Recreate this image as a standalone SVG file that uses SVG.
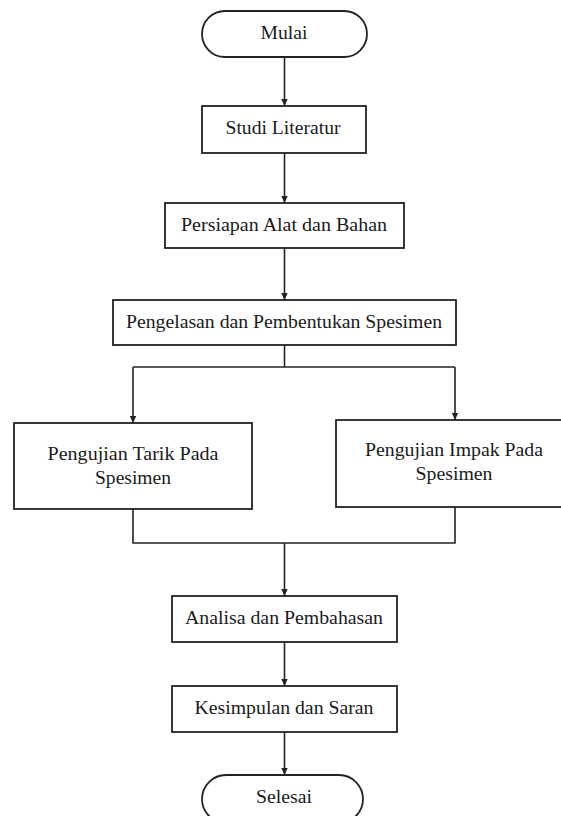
<svg xmlns="http://www.w3.org/2000/svg" width="561" height="816" viewBox="0 0 561 816">
<defs>
<style>
.box{fill:#fff;stroke:#222;stroke-width:1.8}
.t{font-family:"Liberation Serif","Times New Roman",serif;font-size:19.5px;fill:#1a1a1a;text-anchor:middle}
.c{fill:none;stroke:#222;stroke-width:1.6}
</style>
<marker id="ah" markerWidth="8" markerHeight="8" refX="7" refY="4" orient="auto" markerUnits="userSpaceOnUse">
<path d="M0,0.8 L7,4 L0,7.2 Z" fill="#222"/>
</marker>
</defs>
<rect width="561" height="816" fill="#fff"/>
<g id="connectors">
<line class="c" x1="284.5" y1="57" x2="284.5" y2="106" marker-end="url(#ah)"/>
<line class="c" x1="284.5" y1="153" x2="284.5" y2="203" marker-end="url(#ah)"/>
<line class="c" x1="284.5" y1="248" x2="284.5" y2="300" marker-end="url(#ah)"/>
<polyline class="c" points="284.5,345 284.5,367"/>
<polyline class="c" points="133,367 455,367"/>
<line class="c" x1="133" y1="367" x2="133" y2="423" marker-end="url(#ah)"/>
<line class="c" x1="455" y1="367" x2="455" y2="420" marker-end="url(#ah)"/>
<polyline class="c" points="133,509 133,543 455,543 455,507"/>
<line class="c" x1="284.5" y1="543" x2="284.5" y2="596" marker-end="url(#ah)"/>
<line class="c" x1="284.5" y1="642" x2="284.5" y2="686" marker-end="url(#ah)"/>
<line class="c" x1="284.5" y1="732" x2="284.5" y2="775" marker-end="url(#ah)"/>
</g>
<g id="mulai">
<rect class="box" x="202" y="11" width="165" height="46" rx="23" ry="23"/>
<text class="t" x="284" y="39" textLength="47" lengthAdjust="spacingAndGlyphs">Mulai</text>
</g>
<g id="studi">
<rect class="box" x="202" y="106" width="164" height="47"/>
<text class="t" x="283" y="134" textLength="115" lengthAdjust="spacingAndGlyphs">Studi Literatur</text>
</g>
<g id="persiapan">
<rect class="box" x="165" y="203" width="239" height="45"/>
<text class="t" x="284" y="231" textLength="206" lengthAdjust="spacingAndGlyphs">Persiapan Alat dan Bahan</text>
</g>
<g id="pengelasan">
<rect class="box" x="113" y="300" width="343" height="45"/>
<text class="t" x="284" y="328" textLength="316" lengthAdjust="spacingAndGlyphs">Pengelasan dan Pembentukan Spesimen</text>
</g>
<g id="tarik">
<rect class="box" x="14" y="423" width="238" height="86"/>
<text class="t" x="133" y="460" textLength="171" lengthAdjust="spacingAndGlyphs">Pengujian Tarik Pada</text>
<text class="t" x="133" y="484" textLength="76" lengthAdjust="spacingAndGlyphs">Spesimen</text>
</g>
<g id="impak">
<rect class="box" x="336" y="420" width="226" height="87"/>
<text class="t" x="454" y="456" textLength="178" lengthAdjust="spacingAndGlyphs">Pengujian Impak Pada</text>
<text class="t" x="454" y="480" textLength="77" lengthAdjust="spacingAndGlyphs">Spesimen</text>
</g>
<g id="analisa">
<rect class="box" x="172" y="596" width="225" height="46"/>
<text class="t" x="284" y="624" textLength="198" lengthAdjust="spacingAndGlyphs">Analisa dan Pembahasan</text>
</g>
<g id="kesimpulan">
<rect class="box" x="172" y="686" width="225" height="46"/>
<text class="t" x="284" y="714" textLength="179" lengthAdjust="spacingAndGlyphs">Kesimpulan dan Saran</text>
</g>
<g id="selesai">
<rect class="box" x="202" y="775" width="161" height="48" rx="24" ry="24"/>
<text class="t" x="284" y="803" textLength="56" lengthAdjust="spacingAndGlyphs">Selesai</text>
</g>
</svg>
